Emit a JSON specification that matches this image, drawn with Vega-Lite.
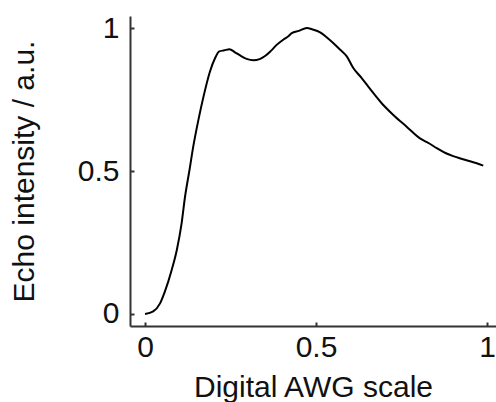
{
  "$schema": "https://vega.github.io/schema/vega-lite/v6.json",
  "width": 366,
  "height": 310,
  "autosize": {"type": "none"},
  "padding": {"left": 130, "top": 16, "right": 0, "bottom": 76},
  "background": "white",
  "config": {
    "view": {"stroke": null},
    "font": "Liberation Sans",
    "axis": {
      "grid": false,
      "domainColor": "#333333",
      "domainWidth": 2,
      "tickColor": "#333333",
      "tickWidth": 2,
      "tickSize": -4,
      "labelFont": "Liberation Sans",
      "labelFontSize": 30,
      "labelColor": "#111111",
      "titleFont": "Liberation Sans",
      "titleFontSize": 30,
      "titleFontWeight": "normal",
      "titleColor": "#111111"
    }
  },
  "data": {
    "values": [
      {"awg": 0.000, "echo": 0.000},
      {"awg": 0.024, "echo": 0.009},
      {"awg": 0.044, "echo": 0.037},
      {"awg": 0.058, "echo": 0.078},
      {"awg": 0.078, "echo": 0.154},
      {"awg": 0.093, "echo": 0.224},
      {"awg": 0.107, "echo": 0.317},
      {"awg": 0.117, "echo": 0.410},
      {"awg": 0.130, "echo": 0.503},
      {"awg": 0.141, "echo": 0.585},
      {"awg": 0.156, "echo": 0.678},
      {"awg": 0.171, "echo": 0.760},
      {"awg": 0.190, "echo": 0.848},
      {"awg": 0.205, "echo": 0.895},
      {"awg": 0.217, "echo": 0.918},
      {"awg": 0.232, "echo": 0.922},
      {"awg": 0.247, "echo": 0.926},
      {"awg": 0.262, "echo": 0.916},
      {"awg": 0.278, "echo": 0.904},
      {"awg": 0.297, "echo": 0.892},
      {"awg": 0.317, "echo": 0.887},
      {"awg": 0.335, "echo": 0.891},
      {"awg": 0.351, "echo": 0.902},
      {"awg": 0.368, "echo": 0.920},
      {"awg": 0.385, "echo": 0.941},
      {"awg": 0.405, "echo": 0.960},
      {"awg": 0.420, "echo": 0.972},
      {"awg": 0.429, "echo": 0.982},
      {"awg": 0.450, "echo": 0.990},
      {"awg": 0.473, "echo": 1.000},
      {"awg": 0.490, "echo": 0.995},
      {"awg": 0.512, "echo": 0.985},
      {"awg": 0.531, "echo": 0.968},
      {"awg": 0.551, "echo": 0.947},
      {"awg": 0.570, "echo": 0.925},
      {"awg": 0.590, "echo": 0.901},
      {"awg": 0.609, "echo": 0.860},
      {"awg": 0.633, "echo": 0.826},
      {"awg": 0.658, "echo": 0.787},
      {"awg": 0.692, "echo": 0.737},
      {"awg": 0.726, "echo": 0.696},
      {"awg": 0.765, "echo": 0.655},
      {"awg": 0.804, "echo": 0.614},
      {"awg": 0.830, "echo": 0.597},
      {"awg": 0.853, "echo": 0.580},
      {"awg": 0.880, "echo": 0.562},
      {"awg": 0.901, "echo": 0.552},
      {"awg": 0.925, "echo": 0.543},
      {"awg": 0.950, "echo": 0.534},
      {"awg": 0.970, "echo": 0.527},
      {"awg": 0.989, "echo": 0.519}
    ]
  },
  "mark": {"type": "line", "color": "black", "strokeWidth": 2, "interpolate": "monotone", "clip": false},
  "encoding": {
    "x": {
      "field": "awg",
      "type": "quantitative",
      "scale": {"domain": [-0.0439, 1.0263], "nice": false, "zero": false},
      "axis": {"title": "Digital AWG scale", "values": [0, 0.5, 1], "format": "~g", "labelPadding": 10, "titlePadding": 10, "labelFlush": false}
    },
    "y": {
      "field": "echo",
      "type": "quantitative",
      "scale": {"domain": [-0.042, 1.042], "nice": false, "zero": false},
      "axis": {"title": "Echo intensity / a.u.", "values": [0, 0.5, 1], "format": "~g", "labelPadding": 15, "titlePadding": 38, "labelFlush": false}
    }
  }
}
